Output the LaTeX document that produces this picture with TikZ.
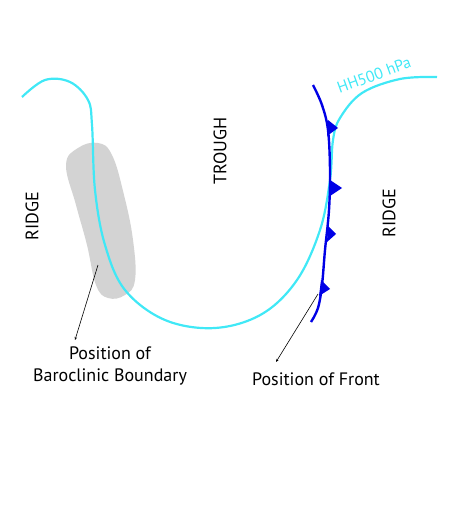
\documentclass[tikz,border=0pt]{standalone}
\usepackage{fontspec}
\setmainfont{PT Sans}
\usetikzlibrary{arrows.meta}
\definecolor{hcyan}{RGB}{64,232,246}
\definecolor{fblue}{RGB}{0,0,230}
\definecolor{blob}{RGB}{211,211,211}
\begin{document}
\begin{tikzpicture}[x=1pt,y=-1pt,
  lbl/.style={font=\fontsize{18}{22}\selectfont, align=center},
  vlbl/.style={font=\fontsize{18}{22}\selectfont, rotate=90},
  ptr/.style={black, line width=0.6pt, -{Stealth[length=3pt,width=2.5pt]}},
  tri/.style={fill=fblue, draw=none}]
\useasboundingbox (0,0) rectangle (450,524);
% gray blob
\fill[blob] plot[smooth cycle, tension=0.7] coordinates {(66,165) (78,148) (98,143) (112,155) (124,195) (133,240) (135,280) (125,295) (108,298) (96,285) (87,245) (76,205)};
% cyan height line
\draw[hcyan, line width=2.2pt] plot[smooth, tension=0.6] coordinates {(22,97) (45,80) (70,82) (88,100) (92,125) (95,190) (105,245) (125,290) (165,320) (215,328) (262,314) (297,280) (320,230) (330,180) (333,140) (340,118) (362,93) (400,79) (437,77)};
% blue front
\draw[fblue, line width=2.4pt] plot[smooth, tension=0.6] coordinates {(313,85) (322,105) (328,130) (330,170) (329,210) (325,250) (322,285) (318,308) (311,322)};
\fill[tri] (328,120) -- (338,128) -- (327,136) -- cycle;
\fill[tri] (330,180) -- (342,188) -- (330,196) -- cycle;
\fill[tri] (328,226) -- (336,234) -- (327,242) -- cycle;
\fill[tri] (321,280) -- (330,289) -- (319,296) -- cycle;
% labels
\node[vlbl] (r1) at (32,216) {RIDGE};
\node[vlbl] (tr) at (220,151) {TROUGH};
\node[vlbl] (r2) at (389,213) {RIDGE};
\node[hcyan, font=\fontsize{16}{19}\selectfont, rotate=20, inner sep=0pt] (hh) at (374,75) {HH500 hPa};
\node[lbl] (bb) at (110,366) {Position of\\Baroclinic Boundary};
\node[lbl] (pf) at (316,379) {Position of Front};
\coordinate (bs) at (98,265);
\coordinate (be) at (75,340);
\coordinate (fs) at (318,294);
\coordinate (fe) at (276,362);
\draw[ptr] (bs) -- (be);
\draw[ptr] (fs) -- (fe);
\end{tikzpicture}
\end{document}
